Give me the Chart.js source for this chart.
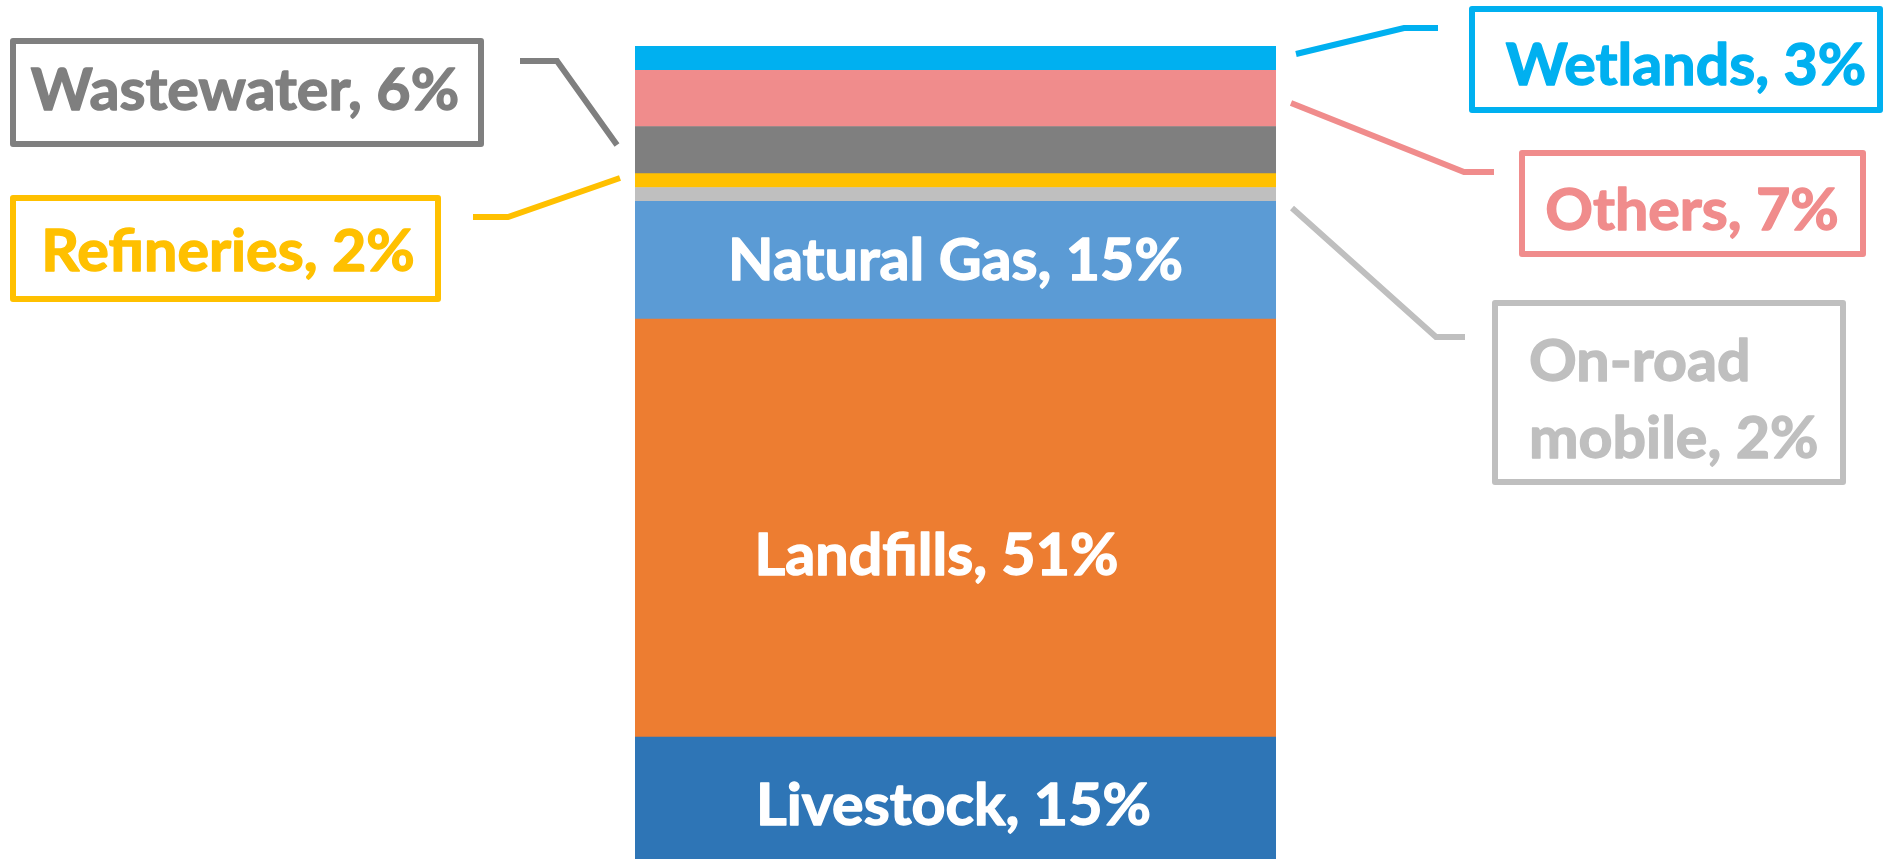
<!DOCTYPE html>
<html>
<head>
<meta charset="utf-8">
<script src="https://cdn.jsdelivr.net/npm/chart.js@4/dist/chart.umd.min.js"></script>
<style>
  html, body { margin: 0; padding: 0; background: #fff; }
  #wrap { width: 1892px; height: 859px; }
</style>
</head>
<body>
<div id="wrap"><canvas id="methaanChart" width="1892" height="859"></canvas></div>
<script>
// Bronnen van methaan (aandeel in %)
const categories = ["Livestock", "Landfills", "Natural Gas", "On-road mobile", "Refineries", "Wastewater", "Others", "Wetlands"];
const shares = [15.0, 51.4, 14.5, 1.7, 1.7, 5.8, 6.9, 3.0];
const labelPct = [15, 51, 15, 2, 2, 6, 7, 3];
const colors = ["#2E75B6", "#ED7D31", "#5B9BD5", "#BFBFBF", "#FFC000", "#7F7F7F", "#F08C8C", "#00B0F0"];

const FONT = "Lato";
const FONT_SIZE = 58;
const H_SCALE = 1.02;

// welke labels in de balk staan, met kleine verschuiving
const inside = { 0: [-2, 8], 1: [-19, 28], 2: [0, 1] };

// labels met kader en lijntje naast de balk
const callouts = [
    { i: 5, box: [10, 38, 484, 147], tx: 245, ty: [110], align: "center", line: [[520, 61], [557, 61], [617, 145]] },
    { i: 4, box: [10, 195, 441, 302], tx: 228, ty: [271], align: "center", line: [[473, 217], [508, 217], [620, 178]] },
    { i: 7, box: [1469, 6, 1883, 113], tx: 1686, ty: [85], align: "center", line: [[1296, 54], [1404, 28], [1438, 28]] },
    { i: 6, box: [1519, 150, 1866, 257], tx: 1692, ty: [230], align: "center", line: [[1291, 103], [1464, 172], [1494, 172]] },
    { i: 3, box: [1492, 300, 1846, 485], tx: 1529, ty: [381, 458], align: "left", wrap: true, line: [[1292, 208], [1436, 337], [1465, 337]] }
];

function labelText(i) {
    return `${categories[i]}, ${labelPct[i]}%`;
}

function drawText(ctx, txt, x, y, align, baseline) {
    ctx.save();
    ctx.translate(x, y);
    ctx.scale(H_SCALE, 1);
    ctx.textAlign = align;
    ctx.textBaseline = baseline || "alphabetic";
    ctx.lineWidth = 1.4;
    ctx.lineJoin = "round";
    ctx.strokeStyle = ctx.fillStyle;
    ctx.fillText(txt, 0, 0);
    ctx.strokeText(txt, 0, 0);
    ctx.restore();
}

const labelPlugin = {
    id: "labelPlugin",
    afterDatasetsDraw(chart) {
        const ctx = chart.ctx;
        ctx.save();
        ctx.font = `bold ${FONT_SIZE}px ${FONT}`;

        // labels binnen de balk
        Object.keys(inside).forEach(k => {
            const i = Number(k);
            const el = chart.getDatasetMeta(i).data[0];
            const mid = (el.y + el.base) / 2;
            ctx.fillStyle = "#FFFFFF";
            drawText(ctx, labelText(i), el.x + inside[k][0], mid + inside[k][1], "center", "middle");
        });

        // kaders met lijntjes
        callouts.forEach(c => {
            const col = colors[c.i];
            ctx.strokeStyle = col;
            ctx.lineWidth = 6;
            ctx.lineJoin = "round";
            const [x1, y1, x2, y2] = c.box;
            ctx.strokeRect(x1 + 3, y1 + 3, x2 - x1 - 6, y2 - y1 - 6);

            ctx.lineJoin = "miter";
            ctx.beginPath();
            c.line.forEach((p, n) => n === 0 ? ctx.moveTo(p[0], p[1]) : ctx.lineTo(p[0], p[1]));
            ctx.stroke();

            ctx.fillStyle = col;
            let lines = [labelText(c.i)];
            if (c.wrap) {
                const t = labelText(c.i);
                const cut = t.indexOf(" ");
                lines = [t.slice(0, cut), t.slice(cut + 1)];
            }
            lines.forEach((l, n) => drawText(ctx, l, c.tx, c.ty[n], c.align));
        });
        ctx.restore();
    }
};

const total = shares.reduce((s, v) => s + v, 0);

const ctx = document.getElementById("methaanChart").getContext("2d");
new Chart(ctx, {
    type: "bar",
    data: {
        labels: [""],
        datasets: categories.map((c, i) => ({
            label: c,
            data: [shares[i]],
            backgroundColor: colors[i],
            borderWidth: 0,
            barPercentage: 1,
            categoryPercentage: 1
        }))
    },
    options: {
        responsive: false,
        animation: false,
        devicePixelRatio: 1,
        layout: { padding: { left: 635, right: 616, top: 46, bottom: 0 } },
        scales: {
            x: { stacked: true, display: false },
            y: { stacked: true, display: false, min: 0, max: total }
        },
        plugins: {
            legend: { display: false },
            tooltip: { enabled: false }
        }
    },
    plugins: [labelPlugin]
});
</script>
</body>
</html>
